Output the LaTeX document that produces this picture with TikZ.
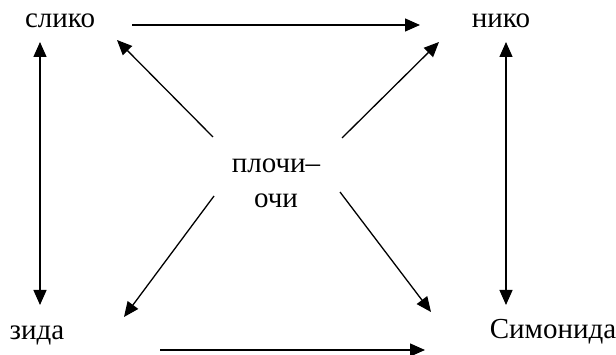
\documentclass[tikz,border=0pt]{standalone}
\usepackage{fontspec}
\setmainfont{Liberation Serif}
\usetikzlibrary{arrows.meta}
\begin{document}
\begin{tikzpicture}[x=1pt,y=-1pt,
  lbl/.style={anchor=base,inner sep=0pt,font=\fontsize{29}{34}\selectfont},
  arr/.style={line width=1.3pt,-{Triangle[length=15pt,width=13pt]}},
  darr/.style={line width=1.3pt,{Triangle[length=15pt,width=13pt]}-{Triangle[length=15pt,width=13pt]}}]
\useasboundingbox (0,0) rectangle (616,355);
\node[lbl] (slik) at (60,28) {слико};
\node[lbl] (nik) at (501,28) {нико};
\node[lbl] (plo) at (276,173) {плочи–};
\node[lbl] (ochi) at (276,208) {очи};
\node[lbl] (zid) at (37,340) {зида};
\node[lbl] (sim) at (553,339) {Симонида};
% connector end points
\coordinate (t1) at (132,25); \coordinate (t2) at (420,25);
\coordinate (l1) at (40,42); \coordinate (l2) at (40,305);
\coordinate (r1) at (506,42); \coordinate (r2) at (506,305);
\coordinate (tlA) at (213,137); \coordinate (tlB) at (117,40);
\coordinate (trA) at (342,138); \coordinate (trB) at (439,42);
\coordinate (blA) at (214,196); \coordinate (blB) at (124,317);
\coordinate (brA) at (340,192); \coordinate (brB) at (431,312);
\coordinate (b1) at (160,350); \coordinate (b2) at (425,350);
\draw[arr] (t1) -- (t2);
\draw[darr] (l1) -- (l2);
\draw[darr] (r1) -- (r2);
\draw[arr] (tlA) -- (tlB);
\draw[arr] (trA) -- (trB);
\draw[arr] (blA) -- (blB);
\draw[arr] (brA) -- (brB);
\draw[arr] (b1) -- (b2);
\end{tikzpicture}
\end{document}
